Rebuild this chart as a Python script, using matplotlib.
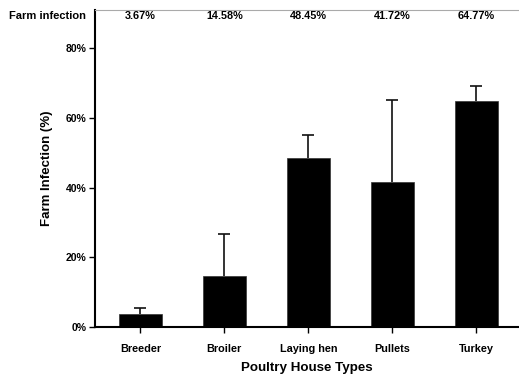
import matplotlib
matplotlib.use("Agg")
import matplotlib.pyplot as plt
from matplotlib.ticker import FuncFormatter

categories = ["Breeder", "Broiler", "Laying hen", "Pullets", "Turkey"]
infection = [3.67, 14.58, 48.45, 41.72, 64.77]
error_upper = [1.9, 12.0, 6.6, 23.4, 4.2]
labels = ["3.67%", "14.58%", "48.45%", "41.72%", "64.77%"]
yticks = [0, 20, 40, 60, 80]

plt.rcParams['font.family'] = ['Liberation Sans', 'DejaVu Sans']
plt.rcParams['font.weight'] = 'bold'

fig = plt.figure(figsize=(5.19, 3.75), dpi=100)
ax = fig.add_axes([95/519, 48/375, 1 - 95/519, (327-10)/375])

x = list(range(len(categories)))
tops = [v + e for v, e in zip(infection, error_upper)]
ax.bar(x, infection, width=0.51, color='black', edgecolor='#333333', linewidth=0.5, zorder=2)
ax.vlines(x, infection, tops, colors='#111111', linewidth=1.2, zorder=1)
ax.plot(x, tops, linestyle='none', marker='_', markersize=9, markeredgewidth=1.2,
        color='#111111', zorder=1)

ax.set_xlim(-0.54, 4.51)
ax.set_ylim(0, 90.9)
ax.set_xticks(x)
ax.set_xticklabels(categories, fontsize=7.8, fontweight='bold')
ax.set_yticks(yticks)
ax.yaxis.set_major_formatter(FuncFormatter(lambda v, p: f"{v:.0f}%"))
ax.tick_params(axis='y', labelsize=7.5, length=4, width=1, direction='out', pad=2)
ax.tick_params(axis='x', length=4, width=1, direction='out', pad=8)
for lab in ax.get_yticklabels():
    lab.set_fontweight('bold')

ax.spines['right'].set_visible(False)
ax.spines['left'].set_linewidth(1.5)
ax.spines['bottom'].set_linewidth(1.5)
ax.spines['top'].set_linewidth(0.8)
ax.spines['top'].set_color('#aaaaaa')

for xi, lab in zip(x, labels):
    ax.text(xi, 89.2, lab, ha='center', va='center', fontsize=7.8, fontweight='bold')
ax.text(-0.65, 89.2, "Farm infection", ha='right', va='center', fontsize=8.0,
        fontweight='bold', clip_on=False)

ax.set_xlabel("Poultry House Types", fontsize=9.6, fontweight='bold', labelpad=6)
ax.set_ylabel("Farm Infection (%)", fontsize=9.5, fontweight='bold', labelpad=9)

fig.savefig("out.png", dpi=100)
